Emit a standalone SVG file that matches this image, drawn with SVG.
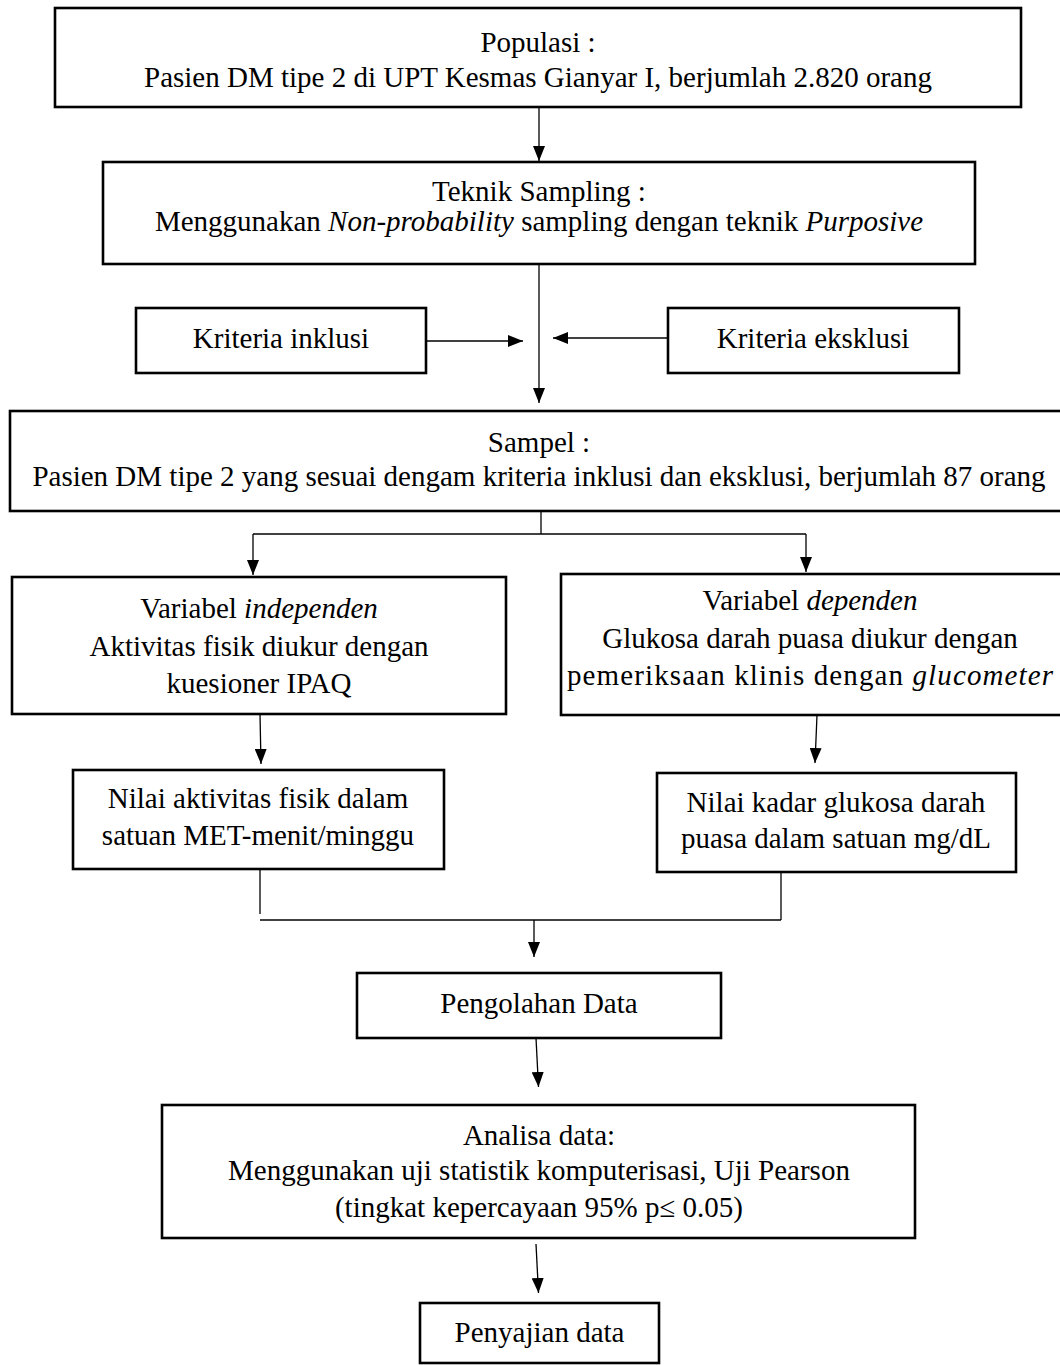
<svg xmlns="http://www.w3.org/2000/svg" width="1060" height="1365" viewBox="0 0 1060 1365">
<style>
.box{fill:#fff;stroke:#000;stroke-width:2.6}
.t{font-family:"Liberation Serif","Times New Roman",serif;font-size:29px;fill:#000;text-anchor:middle}
.i{font-style:italic}
.c{fill:none;stroke:#000;stroke-width:1.3}
</style>
<defs>
<marker id="ah" markerUnits="userSpaceOnUse" markerWidth="15" markerHeight="12" refX="15" refY="6" orient="auto">
<path d="M0,0 L15,6 L0,12 z" fill="#000"/>
</marker>
</defs>
<rect width="1060" height="1365" fill="#fff"/>
<g id="connectors">
<line class="c" x1="539" y1="107" x2="539" y2="161" marker-end="url(#ah)"/>
<line class="c" x1="539" y1="264" x2="539" y2="403" marker-end="url(#ah)"/>
<line class="c" x1="427" y1="341" x2="523" y2="341" marker-end="url(#ah)"/>
<line class="c" x1="668" y1="338" x2="553" y2="338" marker-end="url(#ah)"/>
<line class="c" x1="541" y1="512" x2="541" y2="534"/>
<line class="c" x1="253" y1="534" x2="806" y2="534"/>
<line class="c" x1="253" y1="534" x2="253" y2="575" marker-end="url(#ah)"/>
<line class="c" x1="806" y1="534" x2="806" y2="572" marker-end="url(#ah)"/>
<line class="c" x1="260" y1="714" x2="261" y2="764" marker-end="url(#ah)"/>
<line class="c" x1="817" y1="715" x2="815" y2="763" marker-end="url(#ah)"/>
<line class="c" x1="260" y1="869" x2="260" y2="914"/>
<line class="c" x1="260" y1="920" x2="781" y2="920"/>
<line class="c" x1="781" y1="872" x2="781" y2="920"/>
<line class="c" x1="534" y1="920" x2="534" y2="957" marker-end="url(#ah)"/>
<line class="c" x1="536" y1="1038" x2="538.5" y2="1087" marker-end="url(#ah)"/>
<line class="c" x1="536" y1="1244" x2="538.5" y2="1293" marker-end="url(#ah)"/>
</g>
<g id="populasi">
<rect class="box" x="55" y="8" width="966" height="99"/>
<text class="t" x="538" y="52">Populasi :</text>
<text class="t" x="538" y="87">Pasien DM tipe 2 di UPT Kesmas Gianyar I, berjumlah 2.820 orang</text>
</g>
<g id="teknik">
<rect class="box" x="103" y="162" width="872" height="102"/>
<text class="t" x="539" y="201">Teknik Sampling :</text>
<text class="t" x="539" y="231">Menggunakan <tspan class="i">Non-probability</tspan> sampling dengan teknik <tspan class="i">Purposive</tspan></text>
</g>
<g id="inklusi">
<rect class="box" x="136" y="308" width="290" height="65"/>
<text class="t" x="281" y="348">Kriteria inklusi</text>
</g>
<g id="eksklusi">
<rect class="box" x="668" y="308" width="291" height="65"/>
<text class="t" x="813" y="348">Kriteria eksklusi</text>
</g>
<g id="sampel">
<rect class="box" x="10" y="411" width="1060" height="100"/>
<text class="t" x="539" y="452">Sampel :</text>
<text class="t" x="539" y="486">Pasien DM tipe 2 yang sesuai dengam kriteria inklusi dan eksklusi, berjumlah 87 orang</text>
</g>
<g id="independen">
<rect class="box" x="12" y="577" width="494" height="137"/>
<text class="t" x="259" y="618">Variabel <tspan class="i">independen</tspan></text>
<text class="t" x="259" y="656">Aktivitas fisik diukur dengan</text>
<text class="t" x="259" y="693">kuesioner IPAQ</text>
</g>
<g id="dependen">
<rect class="box" x="561" y="574" width="510" height="141"/>
<text class="t" x="810" y="610">Variabel <tspan class="i">dependen</tspan></text>
<text class="t" x="810" y="648">Glukosa darah puasa diukur dengan</text>
<text class="t" x="810" y="685" textLength="486" lengthAdjust="spacing">pemeriksaan klinis dengan <tspan class="i">glucometer</tspan></text>
</g>
<g id="nilai-aktivitas">
<rect class="box" x="73" y="770" width="371" height="99"/>
<text class="t" x="258" y="808">Nilai aktivitas fisik dalam</text>
<text class="t" x="258" y="845">satuan MET-menit/minggu</text>
</g>
<g id="nilai-glukosa">
<rect class="box" x="657" y="773" width="359" height="99"/>
<text class="t" x="836" y="812">Nilai kadar glukosa darah</text>
<text class="t" x="836" y="848">puasa dalam satuan mg/dL</text>
</g>
<g id="pengolahan">
<rect class="box" x="357" y="973" width="364" height="65"/>
<text class="t" x="539" y="1013">Pengolahan Data</text>
</g>
<g id="analisa">
<rect class="box" x="162" y="1105" width="753" height="133"/>
<text class="t" x="539" y="1145">Analisa data:</text>
<text class="t" x="539" y="1180">Menggunakan uji statistik komputerisasi, Uji Pearson</text>
<text class="t" x="539" y="1217">(tingkat kepercayaan 95% p≤ 0.05)</text>
</g>
<g id="penyajian">
<rect class="box" x="420" y="1303" width="239" height="60"/>
<text class="t" x="539.5" y="1342">Penyajian data</text>
</g>
</svg>
